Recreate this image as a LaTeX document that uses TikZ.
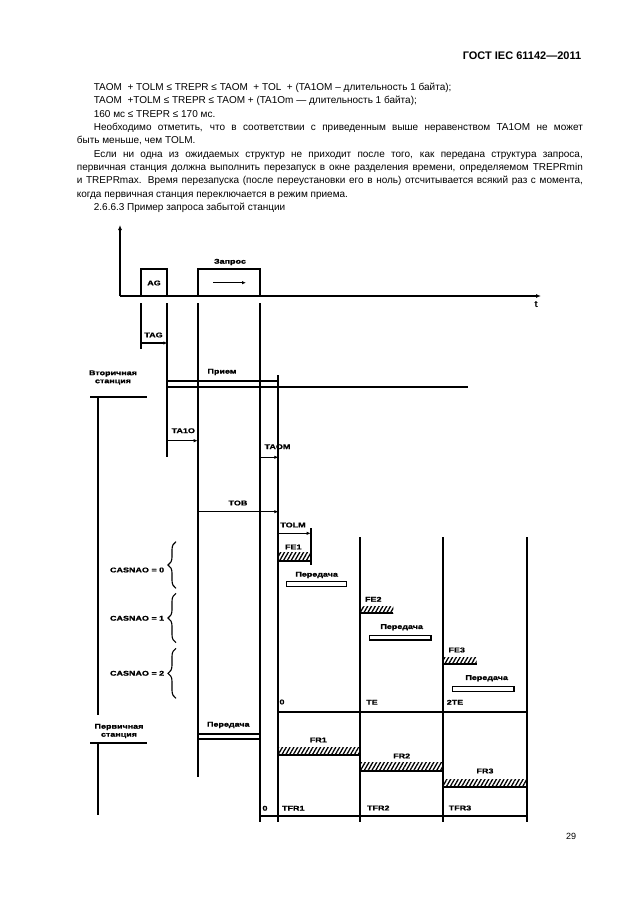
\documentclass[tikz,border=0pt]{standalone}
\usepackage{fontspec}
\setmainfont{Liberation Sans}
\newfontfamily\diagfont[FakeStretch=1.3, FakeBold=1.2]{Liberation Sans}
\usetikzlibrary{arrows.meta, decorations.pathreplacing, patterns.meta}

\begin{document}
\begin{tikzpicture}[x=1pt, y=-1pt, line width=1.7pt,
  lbl/.style={font=\diagfont\fontsize{6.9}{7}\selectfont\bfseries, inner sep=0pt},
  txt/.style={font=\fontsize{10}{13}\selectfont, anchor=base west, inner sep=0pt},
  tarr/.style={line width=1.4pt, -{Latex[length=4pt, width=3.4pt]}},
  axarr/.style={-{Latex[length=5pt, width=4pt]}},
  hatch/.style={pattern={Lines[angle=60, distance=3.3pt, line width=1.3pt]}},
  sendbar/.style={draw, line width=1.4pt},
  clamp/.style={decorate, decoration={brace, amplitude=8pt}, line width=1.1pt}
]
  \useasboundingbox[fill=white] (0,0) rectangle (630,913);

  % page header and text
  \node[font=\fontsize{11}{13}\selectfont\bfseries, anchor=base east, inner sep=0pt]
    (head) at (582,59.5) {ГОСТ IEC 61142—2011};
  \node[txt] (l1) at (93,90.5) {TAOM \ + TOLM ≤ TREPR ≤ TAOM \ + TOL \ + (TA1OM – длительность 1 байта);};
  \node[txt] (l2) at (93,103.8) {TAOM \ +TOLM ≤ TREPR ≤ TAOM + (TA1Om — длительность 1 байта);};
  \node[txt] (l3) at (93,117.2) {160 мс ≤ TREPR ≤ 170 мс.};
  \node[txt] (l4) at (93,130.5) {\makebox[489pt][s]{Необходимо отметить, что  в  соответствии с  приведенным выше неравенством TA1OM  не может}};
  \node[txt] (l5) at (76,143.8) {быть меньше, чем TOLM.};
  \node[txt] (l6) at (93,157.2) {\makebox[489pt][s]{Если  ни одна из ожидаемых структур не приходит после того, как передана структура  запроса,}};
  \node[txt] (l7) at (76,170.5) {\makebox[506pt][s]{первичная станция должна выполнить перезапуск в окне разделения времени, определяемом TREPRmin}};
  \node[txt] (l8) at (76,183.8) {\makebox[506pt][s]{и TREPRmax. Время перезапуска  (после переустановки его в ноль) отсчитывается всякий раз с момента,}};
  \node[txt] (l9) at (76,197.2) {когда первичная  станция переключается в режим приема.};
  \node[txt] (l10) at (93,210.5) {2.6.6.3 Пример запроса забытой станции};
  \node[font=\fontsize{9}{11}\selectfont, anchor=base east, inner sep=0pt] (pg) at (577,839) {29};

  % axes
  \draw[axarr] (120,296) -- (120,225);
  \draw[axarr] (120,296) -- (541,296);
  \node[font=\diagfont\fontsize{9}{10}\selectfont, inner sep=0pt] (t) at (536,304) {t};

  % AG and request frames
  \draw (140.7,296) -- (140.7,269) -- (167.3,269) -- (167.3,296);
  \node[lbl] (ag) at (154,283) {AG};
  \draw (197.7,296) -- (197.7,269) -- (260,269) -- (260,296);
  \node[lbl] (req) at (230,262) {Запрос};
  \draw[tarr] (213,282.7) -- (246,282.7);

  % time marks
  \draw (140.7,303) -- (140.7,349);
  \draw (167.3,303) -- (167.3,457);
  \draw (197.7,303) -- (197.7,777);
  \draw (260,303) -- (260,822);
  \draw (278.3,375) -- (278.3,822);
  \draw (310.7,528) -- (310.7,565);
  \foreach \xc in {360,442.7,526.7}
    \draw (\xc,537) -- (\xc,822);

  \node[lbl] (tag) at (153.5,335) {TAG};
  \draw[tarr] (140.7,343) -- (167.3,343);

  % secondary station
  \node[lbl, align=center] (sec) at (113,377.5) {Вторичная\\[1pt]станция};
  \draw (90,397) -- (147,397);
  \draw (97.7,397) -- (97.7,715);
  \node[lbl] (rcv) at (222,372) {Прием};
  \draw (167.3,380.7) -- (278.3,380.7);
  \draw (167.3,387) -- (467.7,387);

  \node[lbl] (ta1o) at (183.3,430.7) {TA1O};
  \draw[tarr] (167.3,440.7) -- (197.7,440.7);
  \node[lbl] (taom) at (277.5,446.7) {TAOM};
  \draw[tarr] (260,457.3) -- (278.3,457.3);
  \node[lbl] (tob) at (238,503) {TOB};
  \draw[tarr] (197.7,511.7) -- (278.3,511.7);
  \node[lbl] (tolm) at (293,525) {TOLM};
  \draw[tarr] (278.3,533.3) -- (310.7,533.3);

  % echo frames and transmissions
  \node[lbl] (fe1) at (293.3,547) {FE1};
  \fill[hatch] (278.3,552.7) rectangle (310.7,560.7);
  \draw (278.3,560.7) -- (310.7,560.7);
  \node[lbl] (tx1) at (316.7,575) {Передача};
  \draw[sendbar] (286.7,581.7) rectangle (346.7,586.7);

  \node[lbl] (fe2) at (373.3,599.3) {FE2};
  \fill[hatch] (360,606.7) rectangle (393.3,613.3);
  \draw (360,613.3) -- (393.3,613.3);
  \node[lbl] (tx2) at (401.7,627.3) {Передача};
  \draw[sendbar] (369.3,635.7) rectangle (431,640);

  \node[lbl] (fe3) at (456.7,650) {FE3};
  \fill[hatch] (444,657.7) rectangle (476.7,664.3);
  \draw (444,664.3) -- (476.7,664.3);
  \node[lbl] (tx3) at (486.7,678.3) {Передача};
  \draw[sendbar] (452.7,686.7) rectangle (514,691.7);

  % CASNAO braces
  \node[lbl, anchor=east] (cas0) at (165,570) {CASNAO = 0};
  \draw[clamp] (176,588.3) -- (176,541.7);
  \node[lbl, anchor=east] (cas1) at (165,618.3) {CASNAO = 1};
  \draw[clamp] (176,642.7) -- (176,593.3);
  \node[lbl, anchor=east] (cas2) at (165,673.3) {CASNAO = 2};
  \draw[clamp] (176,698.3) -- (176,648.3);

  \node[lbl] (m0) at (282,702) {0};
  \node[lbl] (mte) at (372,702.3) {TE};
  \node[lbl] (m2te) at (455,702.3) {2TE};
  \draw (278.3,711.7) -- (526.7,711.7);

  % primary station
  \node[lbl, align=center] (prim) at (119,731) {Первичная\\[1pt]станция};
  \draw (90,743) -- (147,743);
  \draw (97.7,743) -- (97.7,815);
  \node[lbl] (send) at (228.3,725) {Передача};
  \draw (197.7,734) -- (260,734);
  \draw (197.7,739) -- (260,739);

  % responses
  \node[lbl] (fr1) at (318.3,740) {FR1};
  \fill[hatch] (278.3,747.7) rectangle (360,755);
  \draw (278.3,755) -- (360,755);
  \node[lbl] (fr2) at (401.7,756) {FR2};
  \fill[hatch] (360,762.7) rectangle (442.7,770.7);
  \draw (360,770.7) -- (442.7,770.7);
  \node[lbl] (fr3) at (485,771) {FR3};
  \fill[hatch] (442.7,779.3) rectangle (526.7,787.3);
  \draw (442.7,787.3) -- (526.7,787.3);

  \node[lbl] (b0) at (265,808.3) {0};
  \node[lbl] (tfr1) at (293.3,808.3) {TFR1};
  \node[lbl] (tfr2) at (378.3,808) {TFR2};
  \node[lbl] (tfr3) at (460,808) {TFR3};
  \draw (260,816) -- (526.7,816);
\end{tikzpicture}
\end{document}
